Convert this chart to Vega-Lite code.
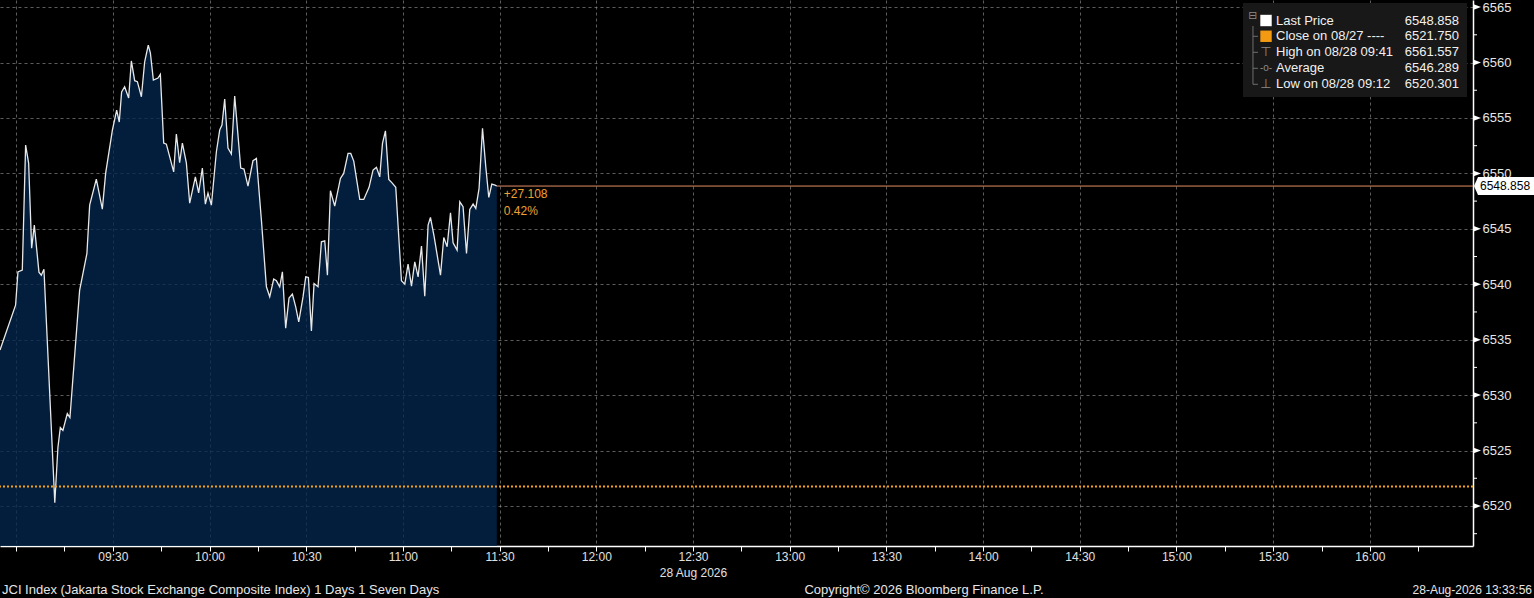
{
  "$schema": "https://vega.github.io/schema/vega-lite/v6.json",
  "width": 1473,
  "height": 546,
  "autosize": {"type": "none"},
  "padding": {"left": 0, "top": 0, "right": 61, "bottom": 52},
  "background": "#000000",
  "config": {"view": {"stroke": null}, "font": "Liberation Sans"},
  "datasets": {
    "price": [
      {"t": "2026-08-28T08:55:00", "p": 6534.06},
      {"t": "2026-08-28T08:59:50", "p": 6538.11},
      {"t": "2026-08-28T09:00:34", "p": 6541.12},
      {"t": "2026-08-28T09:01:55", "p": 6541.27},
      {"t": "2026-08-28T09:02:57", "p": 6552.55},
      {"t": "2026-08-28T09:03:53", "p": 6550.93},
      {"t": "2026-08-28T09:04:49", "p": 6543.26},
      {"t": "2026-08-28T09:05:39", "p": 6545.33},
      {"t": "2026-08-28T09:07:05", "p": 6541.09},
      {"t": "2026-08-28T09:07:49", "p": 6540.82},
      {"t": "2026-08-28T09:08:38", "p": 6541.36},
      {"t": "2026-08-28T09:12:00", "p": 6520.30},
      {"t": "2026-08-28T09:12:58", "p": 6525.27},
      {"t": "2026-08-28T09:13:43", "p": 6527.08},
      {"t": "2026-08-28T09:14:31", "p": 6526.81},
      {"t": "2026-08-28T09:15:53", "p": 6528.34},
      {"t": "2026-08-28T09:16:42", "p": 6527.98},
      {"t": "2026-08-28T09:19:42", "p": 6539.44},
      {"t": "2026-08-28T09:21:58", "p": 6542.78},
      {"t": "2026-08-28T09:22:49", "p": 6547.14},
      {"t": "2026-08-28T09:24:53", "p": 6549.48},
      {"t": "2026-08-28T09:26:45", "p": 6546.78},
      {"t": "2026-08-28T09:27:47", "p": 6550.02},
      {"t": "2026-08-28T09:29:52", "p": 6553.91},
      {"t": "2026-08-28T09:31:12", "p": 6555.71},
      {"t": "2026-08-28T09:32:00", "p": 6554.63},
      {"t": "2026-08-28T09:32:44", "p": 6557.34},
      {"t": "2026-08-28T09:33:40", "p": 6557.82},
      {"t": "2026-08-28T09:34:55", "p": 6556.80},
      {"t": "2026-08-28T09:35:45", "p": 6560.14},
      {"t": "2026-08-28T09:36:47", "p": 6558.36},
      {"t": "2026-08-28T09:37:37", "p": 6558.27},
      {"t": "2026-08-28T09:38:52", "p": 6556.91},
      {"t": "2026-08-28T09:39:53", "p": 6560.07},
      {"t": "2026-08-28T09:41:00", "p": 6561.56},
      {"t": "2026-08-28T09:41:39", "p": 6560.88},
      {"t": "2026-08-28T09:42:35", "p": 6558.42},
      {"t": "2026-08-28T09:44:01", "p": 6558.60},
      {"t": "2026-08-28T09:44:45", "p": 6558.94},
      {"t": "2026-08-28T09:45:47", "p": 6552.73},
      {"t": "2026-08-28T09:46:37", "p": 6552.64},
      {"t": "2026-08-28T09:48:53", "p": 6550.14},
      {"t": "2026-08-28T09:49:43", "p": 6553.55},
      {"t": "2026-08-28T09:50:44", "p": 6550.96},
      {"t": "2026-08-28T09:51:35", "p": 6552.73},
      {"t": "2026-08-28T09:52:49", "p": 6550.96},
      {"t": "2026-08-28T09:53:51", "p": 6547.32},
      {"t": "2026-08-28T09:55:37", "p": 6549.69},
      {"t": "2026-08-28T09:56:38", "p": 6548.25},
      {"t": "2026-08-28T09:57:47", "p": 6550.48},
      {"t": "2026-08-28T09:58:43", "p": 6547.23},
      {"t": "2026-08-28T09:59:32", "p": 6548.22},
      {"t": "2026-08-28T10:00:35", "p": 6547.14},
      {"t": "2026-08-28T10:02:08", "p": 6551.95},
      {"t": "2026-08-28T10:03:10", "p": 6553.91},
      {"t": "2026-08-28T10:03:52", "p": 6554.36},
      {"t": "2026-08-28T10:04:43", "p": 6556.71},
      {"t": "2026-08-28T10:05:44", "p": 6552.28},
      {"t": "2026-08-28T10:06:47", "p": 6551.74},
      {"t": "2026-08-28T10:07:49", "p": 6556.98},
      {"t": "2026-08-28T10:09:41", "p": 6550.48},
      {"t": "2026-08-28T10:10:42", "p": 6550.39},
      {"t": "2026-08-28T10:11:56", "p": 6548.85},
      {"t": "2026-08-28T10:13:29", "p": 6551.14},
      {"t": "2026-08-28T10:14:33", "p": 6551.35},
      {"t": "2026-08-28T10:16:06", "p": 6545.79},
      {"t": "2026-08-28T10:17:39", "p": 6539.77},
      {"t": "2026-08-28T10:18:41", "p": 6538.87},
      {"t": "2026-08-28T10:19:55", "p": 6540.47},
      {"t": "2026-08-28T10:20:46", "p": 6540.31},
      {"t": "2026-08-28T10:21:47", "p": 6539.77},
      {"t": "2026-08-28T10:22:37", "p": 6541.12},
      {"t": "2026-08-28T10:23:38", "p": 6536.04},
      {"t": "2026-08-28T10:24:40", "p": 6538.75},
      {"t": "2026-08-28T10:25:43", "p": 6539.11},
      {"t": "2026-08-28T10:26:45", "p": 6537.96},
      {"t": "2026-08-28T10:27:41", "p": 6536.61},
      {"t": "2026-08-28T10:29:01", "p": 6538.86},
      {"t": "2026-08-28T10:29:51", "p": 6540.67},
      {"t": "2026-08-28T10:30:41", "p": 6540.61},
      {"t": "2026-08-28T10:31:37", "p": 6535.79},
      {"t": "2026-08-28T10:32:26", "p": 6540.07},
      {"t": "2026-08-28T10:33:40", "p": 6539.77},
      {"t": "2026-08-28T10:34:43", "p": 6543.83},
      {"t": "2026-08-28T10:35:45", "p": 6543.92},
      {"t": "2026-08-28T10:36:35", "p": 6540.82},
      {"t": "2026-08-28T10:37:31", "p": 6548.43},
      {"t": "2026-08-28T10:38:51", "p": 6547.05},
      {"t": "2026-08-28T10:40:37", "p": 6549.55},
      {"t": "2026-08-28T10:41:38", "p": 6550.00},
      {"t": "2026-08-28T10:42:59", "p": 6551.80},
      {"t": "2026-08-28T10:43:49", "p": 6551.80},
      {"t": "2026-08-28T10:44:45", "p": 6551.11},
      {"t": "2026-08-28T10:46:37", "p": 6547.65},
      {"t": "2026-08-28T10:47:51", "p": 6547.65},
      {"t": "2026-08-28T10:49:30", "p": 6548.74},
      {"t": "2026-08-28T10:50:44", "p": 6550.30},
      {"t": "2026-08-28T10:51:47", "p": 6550.54},
      {"t": "2026-08-28T10:52:49", "p": 6549.69},
      {"t": "2026-08-28T10:53:40", "p": 6552.71},
      {"t": "2026-08-28T10:54:35", "p": 6553.84},
      {"t": "2026-08-28T10:55:37", "p": 6549.46},
      {"t": "2026-08-28T10:56:38", "p": 6549.15},
      {"t": "2026-08-28T10:57:47", "p": 6548.74},
      {"t": "2026-08-28T10:59:33", "p": 6540.31},
      {"t": "2026-08-28T11:00:35", "p": 6540.01},
      {"t": "2026-08-28T11:01:36", "p": 6541.82},
      {"t": "2026-08-28T11:02:40", "p": 6539.83},
      {"t": "2026-08-28T11:03:41", "p": 6542.02},
      {"t": "2026-08-28T11:04:43", "p": 6540.67},
      {"t": "2026-08-28T11:05:46", "p": 6543.44},
      {"t": "2026-08-28T11:06:47", "p": 6538.93},
      {"t": "2026-08-28T11:07:49", "p": 6545.33},
      {"t": "2026-08-28T11:08:33", "p": 6546.03},
      {"t": "2026-08-28T11:09:40", "p": 6544.34},
      {"t": "2026-08-28T11:11:40", "p": 6540.82},
      {"t": "2026-08-28T11:12:41", "p": 6544.22},
      {"t": "2026-08-28T11:13:43", "p": 6543.38},
      {"t": "2026-08-28T11:14:46", "p": 6546.44},
      {"t": "2026-08-28T11:15:34", "p": 6543.74},
      {"t": "2026-08-28T11:16:49", "p": 6543.08},
      {"t": "2026-08-28T11:17:39", "p": 6547.44},
      {"t": "2026-08-28T11:18:40", "p": 6546.99},
      {"t": "2026-08-28T11:19:44", "p": 6542.78},
      {"t": "2026-08-28T11:20:45", "p": 6546.75},
      {"t": "2026-08-28T11:21:47", "p": 6547.23},
      {"t": "2026-08-28T11:22:37", "p": 6546.84},
      {"t": "2026-08-28T11:23:38", "p": 6548.65},
      {"t": "2026-08-28T11:24:42", "p": 6554.06},
      {"t": "2026-08-28T11:25:43", "p": 6550.60},
      {"t": "2026-08-28T11:26:39", "p": 6547.83},
      {"t": "2026-08-28T11:27:35", "p": 6549.03},
      {"t": "2026-08-28T11:28:36", "p": 6548.94},
      {"t": "2026-08-28T11:29:08", "p": 6548.86}
    ],
    "majors": [
      {"v": 6520}, {"v": 6525}, {"v": 6530}, {"v": 6535}, {"v": 6540},
      {"v": 6545}, {"v": 6550}, {"v": 6555}, {"v": 6560}, {"v": 6565}
    ],
    "minors": [
      {"v": 6517.5}, {"v": 6522.5}, {"v": 6527.5}, {"v": 6532.5}, {"v": 6537.5},
      {"v": 6542.5}, {"v": 6547.5}, {"v": 6552.5}, {"v": 6557.5}, {"v": 6562.5}
    ]
  },
  "layer": [
    {
      "data": {"name": "price"},
      "mark": {"type": "area", "fill": "#03264d", "fillOpacity": 0.78},
      "encoding": {
        "x": {
          "field": "t", "type": "temporal",
          "scale": {"domain": [
            {"year": 2026, "month": 8, "date": 28, "hours": 8, "minutes": 55},
            {"year": 2026, "month": 8, "date": 28, "hours": 16, "minutes": 32}
          ]},
          "axis": {
            "title": null, "orient": "bottom",
            "tickCount": 31,
            "domainColor": "#ffffff", "domainWidth": 1.5,
            "tickColor": "#ffffff", "tickSize": 5,
            "tickOpacity": {"condition": {"test": "hours(datum.value) == 16 && minutes(datum.value) == 30", "value": 0}, "value": 1},
            "grid": true, "gridColor": "#9a9a9a", "gridDash": [3, 3],
            "gridOpacity": {"condition": {"test": "minutes(datum.value) % 30 != 0 || (hours(datum.value) == 16 && minutes(datum.value) == 30)", "value": 0}, "value": 0.6},
            "labelExpr": "minutes(datum.value) % 30 != 0 || (hours(datum.value) == 9 && minutes(datum.value) == 0) || (hours(datum.value) == 16 && minutes(datum.value) == 30) ? '' : (hours(datum.value) == 12 && minutes(datum.value) == 30 ? ['12:30', '28 Aug 2026'] : timeFormat(datum.value, '%H:%M'))",
            "labelColor": "#e0e0e0", "labelFontSize": 12, "labelPadding": 0, "labelLineHeight": 16,
            "labelOverlap": false
          }
        },
        "y": {
          "field": "p", "type": "quantitative",
          "scale": {"domain": [6516.39, 6565.64], "zero": false, "nice": false},
          "axis": {
            "title": null, "orient": "right",
            "values": [6520, 6525, 6530, 6535, 6540, 6545, 6550, 6555, 6560, 6565],
            "format": "d",
            "domainColor": "#ffffff", "domainWidth": 1.5,
            "ticks": false,
            "grid": true, "gridColor": "#9a9a9a", "gridDash": [3, 3], "gridOpacity": 0.6,
            "labelColor": "#e6e6e6", "labelFontSize": 13, "labelPadding": 9,
            "labelOverlap": false
          }
        },
        "y2": {"datum": 6516.39}
      }
    },
    {
      "data": {"name": "price"},
      "mark": {"type": "line", "color": "#e8e8e8", "strokeWidth": 1.3},
      "encoding": {
        "x": {"field": "t", "type": "temporal"},
        "y": {"field": "p", "type": "quantitative"}
      }
    },
    {
      "data": {"values": [{"a": 1}]},
      "mark": {"type": "rule", "color": "#f2a01e", "strokeWidth": 2, "strokeDash": [2, 2]},
      "encoding": {"y": {"datum": 6521.75, "type": "quantitative"}}
    },
    {
      "data": {"values": [{"a": 1}]},
      "mark": {"type": "rule", "color": "#e58d62", "strokeWidth": 1},
      "encoding": {
        "x": {"datum": {"year": 2026, "month": 8, "date": 28, "hours": 11, "minutes": 29, "seconds": 8}, "type": "temporal"},
        "x2": {"value": "width"},
        "y": {"datum": 6548.858, "type": "quantitative"}
      }
    },
    {
      "data": {"values": [{"a": 1}]},
      "mark": {"type": "text", "color": "#f0a030", "align": "left", "baseline": "middle", "dx": 7, "dy": 8, "fontSize": 12},
      "encoding": {
        "x": {"datum": {"year": 2026, "month": 8, "date": 28, "hours": 11, "minutes": 29, "seconds": 8}, "type": "temporal"},
        "y": {"datum": 6548.858, "type": "quantitative"},
        "text": {"value": "+27.108"}
      }
    },
    {
      "data": {"values": [{"a": 1}]},
      "mark": {"type": "text", "color": "#f0a030", "align": "left", "baseline": "middle", "dx": 7, "dy": 25, "fontSize": 12},
      "encoding": {
        "x": {"datum": {"year": 2026, "month": 8, "date": 28, "hours": 11, "minutes": 29, "seconds": 8}, "type": "temporal"},
        "y": {"datum": 6548.858, "type": "quantitative"},
        "text": {"value": "0.42%"}
      }
    },
    {
      "data": {"name": "majors"},
      "mark": {"type": "point", "shape": "M-1,-0.75L1,0L-1,0.75Z", "filled": true, "color": "#ffffff", "opacity": 1, "size": 64, "xOffset": 4, "strokeWidth": 0},
      "encoding": {
        "x": {"datum": {"year": 2026, "month": 8, "date": 28, "hours": 16, "minutes": 32}, "type": "temporal"},
        "y": {"field": "v", "type": "quantitative"}
      }
    },
    {
      "data": {"name": "minors"},
      "mark": {"type": "point", "shape": "M0,0L1,0", "filled": false, "color": "#ffffff", "opacity": 1, "size": 64, "strokeWidth": 1},
      "encoding": {
        "x": {"datum": {"year": 2026, "month": 8, "date": 28, "hours": 16, "minutes": 32}, "type": "temporal"},
        "y": {"field": "v", "type": "quantitative"}
      }
    },
    {
      "data": {"values": [{"a": 1}]},
      "mark": {"type": "point", "shape": "M-1,0L-0.875,-0.28L1,-0.28L1,0.28L-0.875,0.28Z", "filled": true, "color": "#ffffff", "opacity": 1, "size": 4096, "xOffset": 33, "strokeWidth": 0},
      "encoding": {
        "x": {"datum": {"year": 2026, "month": 8, "date": 28, "hours": 16, "minutes": 32}, "type": "temporal"},
        "y": {"datum": 6548.858, "type": "quantitative"}
      }
    },
    {
      "data": {"values": [{"a": 1}]},
      "mark": {"type": "text", "color": "#000000", "align": "left", "baseline": "middle", "dx": 7, "fontSize": 12},
      "encoding": {
        "x": {"datum": {"year": 2026, "month": 8, "date": 28, "hours": 16, "minutes": 32}, "type": "temporal"},
        "y": {"datum": 6548.858, "type": "quantitative"},
        "text": {"value": "6548.858"}
      }
    },
    {
      "data": {"values": [{"a": 1}]},
      "mark": {"type": "point", "shape": "M-1,-0.42L1,-0.42L1,0.42L-1,0.42Z", "filled": true, "color": "#181818", "opacity": 1, "size": 50176, "strokeWidth": 0},
      "encoding": {
        "x": {"datum": {"year": 2026, "month": 8, "date": 28, "hours": 15, "minutes": 55, "seconds": 23}, "type": "temporal"},
        "y": {"datum": 6561.13, "type": "quantitative"}
      }
    },
    {
      "data": {"values": [{"a": 1}]},
      "mark": {"type": "point", "shape": "M0,-0.906L0,0.916L0.156,0.916M0,-0.584L0.156,-0.584M0,-0.084L0.156,-0.084M0,0.416L0.156,0.416", "filled": false, "color": "#6e6e6e", "opacity": 1, "size": 4096, "strokeWidth": 1},
      "encoding": {
        "x": {"datum": {"year": 2026, "month": 8, "date": 28, "hours": 15, "minutes": 23, "seconds": 44}, "type": "temporal"},
        "y": {"datum": 6560.68, "type": "quantitative"}
      }
    },
    {
      "data": {"values": [{"a": 1}]},
      "mark": {"type": "text", "color": "#8a8a8a", "align": "center", "baseline": "middle", "fontSize": 11, "font": "DejaVu Sans"},
      "encoding": {
        "x": {"datum": {"year": 2026, "month": 8, "date": 28, "hours": 15, "minutes": 23, "seconds": 44}, "type": "temporal"},
        "y": {"datum": 6564.2, "type": "quantitative"},
        "text": {"value": "⊟"}
      }
    },
    {
      "data": {"values": [{"a": 1}]},
      "mark": {"type": "point", "shape": "square", "filled": true, "color": "#ffffff", "opacity": 1, "size": 130},
      "encoding": {
        "x": {"datum": {"year": 2026, "month": 8, "date": 28, "hours": 15, "minutes": 27, "seconds": 47}, "type": "temporal"},
        "y": {"datum": 6563.79, "type": "quantitative"}
      }
    },
    {
      "data": {"values": [{"a": 1}]},
      "mark": {"type": "point", "shape": "square", "filled": true, "color": "#f39a12", "opacity": 1, "size": 130},
      "encoding": {
        "x": {"datum": {"year": 2026, "month": 8, "date": 28, "hours": 15, "minutes": 27, "seconds": 47}, "type": "temporal"},
        "y": {"datum": 6562.37, "type": "quantitative"}
      }
    },
    {
      "data": {"values": [{"a": 1}]},
      "mark": {"type": "text", "color": "#8a8a8a", "align": "center", "baseline": "middle", "fontSize": 13, "font": "DejaVu Sans"},
      "encoding": {
        "x": {"datum": {"year": 2026, "month": 8, "date": 28, "hours": 15, "minutes": 27, "seconds": 47}, "type": "temporal"},
        "y": {"datum": 6560.92, "type": "quantitative"},
        "text": {"value": "⊤"}
      }
    },
    {
      "data": {"values": [{"a": 1}]},
      "mark": {"type": "text", "color": "#8a8a8a", "align": "center", "baseline": "middle", "fontSize": 10},
      "encoding": {
        "x": {"datum": {"year": 2026, "month": 8, "date": 28, "hours": 15, "minutes": 27, "seconds": 47}, "type": "temporal"},
        "y": {"datum": 6559.48, "type": "quantitative"},
        "text": {"value": "-o-"}
      }
    },
    {
      "data": {"values": [{"a": 1}]},
      "mark": {"type": "text", "color": "#8a8a8a", "align": "center", "baseline": "middle", "fontSize": 13, "font": "DejaVu Sans"},
      "encoding": {
        "x": {"datum": {"year": 2026, "month": 8, "date": 28, "hours": 15, "minutes": 27, "seconds": 47}, "type": "temporal"},
        "y": {"datum": 6558.04, "type": "quantitative"},
        "text": {"value": "⊥"}
      }
    },
    {
      "data": {"values": [{"a": 1}]},
      "mark": {"type": "text", "color": "#f0f0f0", "align": "left", "baseline": "middle", "fontSize": 13},
      "encoding": {
        "x": {"datum": {"year": 2026, "month": 8, "date": 28, "hours": 15, "minutes": 30, "seconds": 53}, "type": "temporal"},
        "y": {"datum": 6563.79, "type": "quantitative"},
        "text": {"value": "Last Price"}
      }
    },
    {
      "data": {"values": [{"a": 1}]},
      "mark": {"type": "text", "color": "#f0f0f0", "align": "left", "baseline": "middle", "fontSize": 13},
      "encoding": {
        "x": {"datum": {"year": 2026, "month": 8, "date": 28, "hours": 15, "minutes": 30, "seconds": 53}, "type": "temporal"},
        "y": {"datum": 6562.37, "type": "quantitative"},
        "text": {"value": "Close on 08/27 ----"}
      }
    },
    {
      "data": {"values": [{"a": 1}]},
      "mark": {"type": "text", "color": "#f0f0f0", "align": "left", "baseline": "middle", "fontSize": 13},
      "encoding": {
        "x": {"datum": {"year": 2026, "month": 8, "date": 28, "hours": 15, "minutes": 30, "seconds": 53}, "type": "temporal"},
        "y": {"datum": 6560.92, "type": "quantitative"},
        "text": {"value": "High on 08/28 09:41"}
      }
    },
    {
      "data": {"values": [{"a": 1}]},
      "mark": {"type": "text", "color": "#f0f0f0", "align": "left", "baseline": "middle", "fontSize": 13},
      "encoding": {
        "x": {"datum": {"year": 2026, "month": 8, "date": 28, "hours": 15, "minutes": 30, "seconds": 53}, "type": "temporal"},
        "y": {"datum": 6559.48, "type": "quantitative"},
        "text": {"value": "Average"}
      }
    },
    {
      "data": {"values": [{"a": 1}]},
      "mark": {"type": "text", "color": "#f0f0f0", "align": "left", "baseline": "middle", "fontSize": 13},
      "encoding": {
        "x": {"datum": {"year": 2026, "month": 8, "date": 28, "hours": 15, "minutes": 30, "seconds": 53}, "type": "temporal"},
        "y": {"datum": 6558.04, "type": "quantitative"},
        "text": {"value": "Low on 08/28 09:12"}
      }
    },
    {
      "data": {"values": [{"a": 1}]},
      "mark": {"type": "text", "color": "#f0f0f0", "align": "right", "baseline": "middle", "fontSize": 13},
      "encoding": {
        "x": {"datum": {"year": 2026, "month": 8, "date": 28, "hours": 16, "minutes": 27, "seconds": 40}, "type": "temporal"},
        "y": {"datum": 6563.79, "type": "quantitative"},
        "text": {"value": "6548.858"}
      }
    },
    {
      "data": {"values": [{"a": 1}]},
      "mark": {"type": "text", "color": "#f0f0f0", "align": "right", "baseline": "middle", "fontSize": 13},
      "encoding": {
        "x": {"datum": {"year": 2026, "month": 8, "date": 28, "hours": 16, "minutes": 27, "seconds": 40}, "type": "temporal"},
        "y": {"datum": 6562.37, "type": "quantitative"},
        "text": {"value": "6521.750"}
      }
    },
    {
      "data": {"values": [{"a": 1}]},
      "mark": {"type": "text", "color": "#f0f0f0", "align": "right", "baseline": "middle", "fontSize": 13},
      "encoding": {
        "x": {"datum": {"year": 2026, "month": 8, "date": 28, "hours": 16, "minutes": 27, "seconds": 40}, "type": "temporal"},
        "y": {"datum": 6560.92, "type": "quantitative"},
        "text": {"value": "6561.557"}
      }
    },
    {
      "data": {"values": [{"a": 1}]},
      "mark": {"type": "text", "color": "#f0f0f0", "align": "right", "baseline": "middle", "fontSize": 13},
      "encoding": {
        "x": {"datum": {"year": 2026, "month": 8, "date": 28, "hours": 16, "minutes": 27, "seconds": 40}, "type": "temporal"},
        "y": {"datum": 6559.48, "type": "quantitative"},
        "text": {"value": "6546.289"}
      }
    },
    {
      "data": {"values": [{"a": 1}]},
      "mark": {"type": "text", "color": "#f0f0f0", "align": "right", "baseline": "middle", "fontSize": 13},
      "encoding": {
        "x": {"datum": {"year": 2026, "month": 8, "date": 28, "hours": 16, "minutes": 27, "seconds": 40}, "type": "temporal"},
        "y": {"datum": 6558.04, "type": "quantitative"},
        "text": {"value": "6520.301"}
      }
    },
    {
      "data": {"values": [{"a": 1}]},
      "mark": {"type": "text", "color": "#e6e6e6", "align": "left", "baseline": "middle", "fontSize": 13, "dx": 2},
      "encoding": {
        "x": {"datum": {"year": 2026, "month": 8, "date": 28, "hours": 8, "minutes": 55}, "type": "temporal"},
        "y": {"datum": 6512.42, "type": "quantitative"},
        "text": {"value": "JCI Index (Jakarta Stock Exchange Composite Index) 1 Days 1 Seven Days"}
      }
    },
    {
      "data": {"values": [{"a": 1}]},
      "mark": {"type": "text", "color": "#e6e6e6", "align": "center", "baseline": "middle", "fontSize": 13},
      "encoding": {
        "x": {"datum": {"year": 2026, "month": 8, "date": 28, "hours": 13, "minutes": 41, "seconds": 40}, "type": "temporal"},
        "y": {"datum": 6512.42, "type": "quantitative"},
        "text": {"value": "Copyright© 2026 Bloomberg Finance L.P."}
      }
    },
    {
      "data": {"values": [{"a": 1}]},
      "mark": {"type": "text", "color": "#e6e6e6", "align": "right", "baseline": "middle", "fontSize": 12},
      "encoding": {
        "x": {"datum": {"year": 2026, "month": 8, "date": 28, "hours": 16, "minutes": 50, "seconds": 18}, "type": "temporal"},
        "y": {"datum": 6512.42, "type": "quantitative"},
        "text": {"value": "28-Aug-2026 13:33:56"}
      }
    }
  ]
}
